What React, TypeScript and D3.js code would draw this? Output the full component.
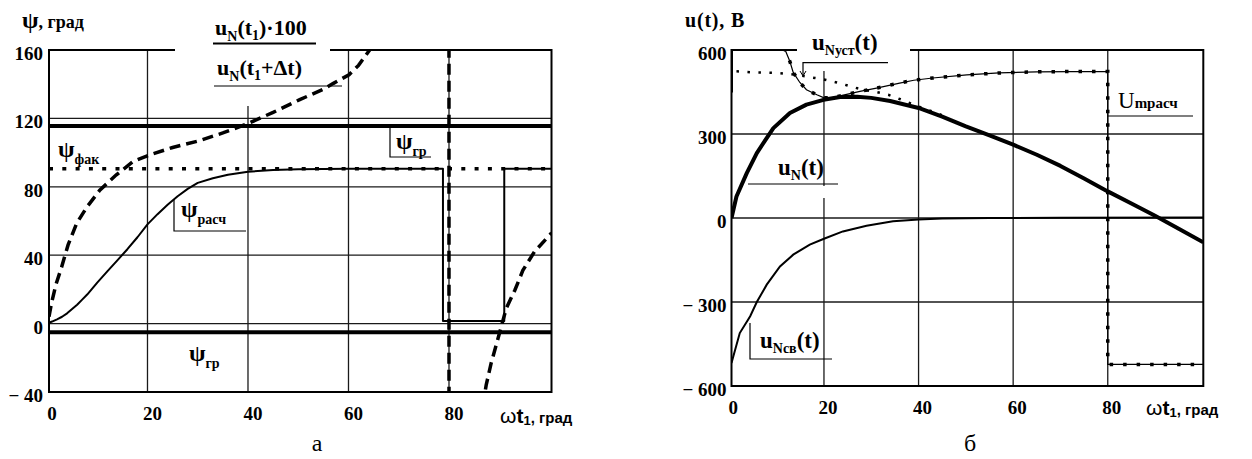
import React from 'react';
import * as d3 from 'd3';

const W = 1252;
const H = 459;

// ---------- chart "а" (left) ----------
const leftXTicks = [0, 20, 40, 60, 80];
const leftYTicks = [-40, 0, 40, 80, 120, 160];
const leftYTickLabels = ['\u2212 40', '0', '40', '80', '120', '160'];
const leftGridY = [0, 40, 80, 120];
const leftGridX = [20, 40, 60, 80];

const psiRaschX = [0.4, 1, 2, 3, 4, 5, 6, 7, 8, 9, 10, 12, 14, 16, 18, 20, 22, 24, 26, 28, 30, 33, 36, 40, 45, 50, 60, 78.8, 78.8, 91, 91, 100.4];
const psiRaschY = [0.5, 1.2, 2.5, 4, 6, 8.5, 11, 14, 17, 20.5, 24, 30.5, 37, 43.5, 50.5, 58, 64, 69.5, 74.5, 78.8, 82.3, 85, 87, 88.8, 89.8, 90.2, 90.5, 90.5, 1.5, 1.5, 90.5, 90.5];

const ratioX = [0.4, 0.9, 1.8, 2.9, 4.2, 5.9, 7.9, 10.5, 13.8, 17.1, 20.3, 25, 30.4, 35, 40, 45, 50.3, 55, 57, 60.1, 62, 64.2, 67, 70, 74, 77, 79.95, 80.05, 83, 85.5, 87.4, 88.4, 89.4, 90.4, 91.4, 93.1, 94.7, 97, 100.4];
const ratioY = [4, 12, 23, 33, 46, 58.6, 68, 78, 87, 94.7, 98.5, 103, 107, 111.5, 117, 123.5, 131, 137, 140.5, 145.5, 151, 160, 175, 200, 260, 400, 3000, -3000, -200, -70, -36, -23, -12.5, -1.8, 8.9, 19.5, 31.1, 42, 53];

const psiFakX = [0.4, 100.4];
const psiFakY = [90.5, 90.5];
const psiGrUpper = 115.5;
const psiGrLower = -5;

// ---------- chart "б" (right) ----------
const rightXTicks = [0, 20, 40, 60, 80];
const rightYTicks = [-600, -300, 0, 300, 600];
const rightYTickLabels = ['\u2212 600', '\u2212 300', '0', '300', '600'];
const rightGridY = [-300, 0, 300];
const rightGridX = [20, 40, 60, 80];

const uNX = [0.45, 1.5, 3.7, 5.8, 9.3, 12.8, 16.3, 19.9, 23.4, 27, 30, 34, 40, 45, 50, 55, 60, 65, 70, 75, 80, 85, 90, 95, 100.2];
const uNY = [0, 77, 161, 232, 321, 375, 405, 422, 432, 433, 429, 418, 393, 362, 327, 295, 262, 226, 186, 141, 95, 52, 8, -38, -87];

const uNsvX = [0.45, 2.2, 4.4, 5.8, 7.9, 10.7, 13.5, 17, 20, 24, 29, 34.6, 40, 45, 55, 70, 100.2];
const uNsvY = [-518, -411, -351, -300, -238, -173, -131, -95, -74, -48, -28, -12, -5, -2, 0, 1, 2];

const uNustX = [1.5, 5, 10, 13.9, 18.1, 20.2, 22.7, 24.8, 26.9, 29, 31.1, 33.6, 36, 38.2, 40, 43, 46];
const uNustY = [524, 520, 518, 512, 500, 494, 484, 474, 464, 456, 450, 440, 425, 410, 398, 380, 360];

const umX = [10.6, 11.8, 12.8, 13.5, 14.9, 16.3, 18.5, 19.9, 21.5, 23.4, 27.6, 31.1, 36, 39, 43, 50.2, 57, 65, 72, 80, 80, 100.2];
const umY = [800, 600, 559, 520, 484, 458, 440, 430, 429, 436, 452, 464, 482, 492, 500, 511, 518, 522, 523, 523, -523, -523];

const uStartX = [0.45, 0.45];
const uStartY = [448, 600];

// ---------- scales ----------
const lx = d3.scaleLinear().domain([0.4, 100.4]).range([49, 551.5]);
const ly = d3.scaleLinear().domain([-40, 160]).range([392, 50]);
const rx = d3.scaleLinear().domain([0.45, 100.2]).range([731.5, 1203.3]);
const ry = d3.scaleLinear().domain([-600, 600]).range([386, 50]);

const zip = (xs: number[], ys: number[]) => xs.map((x, i) => [x, ys[i]] as [number, number]);

const lLine = d3.line<[number, number]>().x(d => lx(d[0])).y(d => ly(d[1]));
const rLine = d3.line<[number, number]>().x(d => rx(d[0])).y(d => ry(d[1]));

const SERIF = "'Liberation Serif', 'DejaVu Serif', serif";
const SANS = "'Liberation Sans', 'DejaVu Sans', sans-serif";
const GRID = '#1a1a1a';

const serif = { fontFamily: SERIF };
const sans = { fontFamily: SANS };

function AxisTitle({ x, y }: { x: number; y: number }) {
  return (
    <text x={x} y={y} style={sans} fill="#000">
      <tspan fontSize={21}>ω</tspan>
      <tspan fontSize={21} fontWeight="bold">t</tspan>
      <tspan fontSize={13} fontWeight="bold" dy={2}>1</tspan>
      <tspan fontSize={15} fontWeight="bold" dy={-2}>, град</tspan>
    </text>
  );
}

function Psi({ x, y, sub }: { x: number; y: number; sub: string }) {
  return (
    <text x={x} y={y} style={serif} fontWeight="bold" fill="#000">
      <tspan fontSize={24}>ψ</tspan>
      <tspan fontSize={14} dy={7}>{sub}</tspan>
    </text>
  );
}

export default function App() {
  const [l0, l1] = lx.range();
  const [lb, lt] = ly.range();
  const [r0, r1] = rx.range();
  const [rb, rt] = ry.range();

  return (
    <svg
      width={W}
      height={H}
      viewBox={`0 0 ${W} ${H}`}
      style={{ position: 'absolute', left: 0, top: 0, background: '#fff', fontFamily: SERIF }}
    >
      <defs>
        <clipPath id="clipL">
          <rect x={l0} y={lt} width={l1 - l0} height={lb - lt} />
        </clipPath>
        <clipPath id="clipR">
          <rect x={r0} y={rt} width={r1 - r0} height={rb - rt} />
        </clipPath>
      </defs>
      <rect x={0} y={0} width={W} height={H} fill="#fff" />

      {/* ================= LEFT CHART ================= */}
      <g>
        {leftGridX.map(v => (
          <line key={'lgx' + v} x1={lx(v)} x2={lx(v)} y1={lt} y2={lb} stroke={GRID} strokeWidth={1.3} />
        ))}
        {leftGridY.map(v => (
          <line key={'lgy' + v} x1={l0} x2={l1} y1={ly(v)} y2={ly(v)} stroke={GRID} strokeWidth={1.3} />
        ))}
        <rect x={l0} y={lt} width={l1 - l0} height={lb - lt} fill="none" stroke="#000" strokeWidth={2} />
        <rect x={175} y={38} width={155} height={68} fill="#fff" />

        <line x1={l0} x2={l1} y1={ly(psiGrUpper)} y2={ly(psiGrUpper)} stroke="#000" strokeWidth={4} />
        <line x1={l0} x2={l1} y1={ly(psiGrLower)} y2={ly(psiGrLower)} stroke="#000" strokeWidth={4} />

        <g clipPath="url(#clipL)" fill="none">
          <path d={lLine(zip(psiFakX, psiFakY)) || ''} stroke="#000" strokeWidth={3.5} strokeDasharray="4 9.3" />
          <path d={lLine(zip(psiRaschX, psiRaschY)) || ''} stroke="#000" strokeWidth={2} strokeLinejoin="round" />
          <path d={lLine(zip(ratioX, ratioY)) || ''} stroke="#000" strokeWidth={3.5} strokeDasharray="11 6" />
        </g>

        {leftYTicks.map((v, i) => (
          <text key={'lyt' + v} x={l0 - 6} y={ly(v) + 10} textAnchor="end" style={serif} fontWeight="bold" fontSize={19}>
            {leftYTickLabels[i]}
          </text>
        ))}
        {leftXTicks.map(v => (
          <text key={'lxt' + v} x={lx(v) + 5} y={lb + 28} textAnchor="middle" style={serif} fontWeight="bold" fontSize={19}>
            {v}
          </text>
        ))}
        <text x={22} y={28} style={serif} fontWeight="bold" fill="#000">
          <tspan fontSize={24}>ψ</tspan>
          <tspan fontSize={18}>, град</tspan>
        </text>
        <AxisTitle x={500} y={423} />

        <text x={215} y={35} style={serif} fontWeight="bold" fontSize={22}>
          u<tspan fontSize={14} dy={6}>N</tspan>
          <tspan dy={-6}>(t</tspan>
          <tspan fontSize={14} dy={5}>1</tspan>
          <tspan dy={-5}>)·100</tspan>
        </text>
        <line x1={213} x2={316} y1={43.5} y2={43.5} stroke="#000" strokeWidth={2} />
        <text x={217} y={75} style={serif} fontWeight="bold" fontSize={22}>
          u<tspan fontSize={14} dy={6}>N</tspan>
          <tspan dy={-6}>(t</tspan>
          <tspan fontSize={14} dy={5}>1</tspan>
          <tspan dy={-5}>+Δt)</tspan>
        </text>
        <line x1={214} x2={342} y1={86} y2={86} stroke="#000" strokeWidth={1.2} />

        <Psi x={58} y={157} sub="фак" />
        <Psi x={181} y={217} sub="расч" />
        <polyline points="174,200 174,231 246,231" fill="none" stroke="#000" strokeWidth={1.2} />
        <Psi x={396} y={149} sub="гр" />
        <polyline points="390,128 390,157 431,157" fill="none" stroke="#000" strokeWidth={1.2} />
        <Psi x={189} y={361} sub="гр" />

        <text x={317} y={451} textAnchor="middle" style={serif} fontSize={24}>а</text>
      </g>

      {/* ================= RIGHT CHART ================= */}
      <g>
        {rightGridX.map(v => (
          <line key={'rgx' + v} x1={rx(v)} x2={rx(v)} y1={rt} y2={rb} stroke={GRID} strokeWidth={1.3} />
        ))}
        {rightGridY.map(v => (
          <line key={'rgy' + v} x1={r0} x2={r1} y1={ry(v)} y2={ry(v)} stroke={GRID} strokeWidth={1.3} />
        ))}
        <rect x={r0} y={rt} width={r1 - r0} height={rb - rt} fill="none" stroke="#000" strokeWidth={2} />
        <rect x={797} y={38} width={113} height={33} fill="#fff" />
        <rect x={748} y={186} width={92} height={12} fill="#fff" />

        <g clipPath="url(#clipR)" fill="none">
          <path d={rLine(zip(uStartX, uStartY)) || ''} stroke="#000" strokeWidth={3} />
          <path d={rLine(zip(uNsvX, uNsvY)) || ''} stroke="#000" strokeWidth={2} />
          <path d={rLine(zip(umX, umY)) || ''} stroke="#000" strokeWidth={1.2} />
          <path d={rLine(zip(umX, umY)) || ''} stroke="#000" strokeWidth={3.5} strokeDasharray="3.5 10" />
          <path d={rLine(zip(uNustX, uNustY)) || ''} stroke="#000" strokeWidth={2.5} strokeDasharray="2.5 8.5" />
          <path d={rLine(zip(uNX, uNY)) || ''} stroke="#000" strokeWidth={4} strokeLinejoin="round" />
        </g>

        {rightYTicks.map((v, i) => (
          <text key={'ryt' + v} x={r0 - 5} y={ry(v) + 10} textAnchor="end" style={serif} fontWeight="bold" fontSize={19}>
            {rightYTickLabels[i]}
          </text>
        ))}
        {rightXTicks.map(v => (
          <text key={'rxt' + v} x={rx(v) + 4} y={rb + 28} textAnchor="middle" style={serif} fontWeight="bold" fontSize={19}>
            {v}
          </text>
        ))}
        <text x={685} y={27} style={serif} fontWeight="bold" fontSize={20} letterSpacing={0.8}>u(t), B</text>
        <AxisTitle x={1146} y={415} />

        <text x={812} y={50} style={serif} fontWeight="bold" fontSize={23}>
          u<tspan fontSize={14} dy={5}>Nуст</tspan>
          <tspan dy={-5}>(t)</tspan>
        </text>
        <polyline points="888,62.7 803,62.7 803,75" fill="none" stroke="#000" strokeWidth={1.2} />
        <path d="M800,71 L803,76 L806,71" fill="none" stroke="#000" strokeWidth={1} />

        <text x={778} y={175} style={serif} fontWeight="bold" fontSize={23}>
          u<tspan fontSize={14} dy={5}>N</tspan>
          <tspan dy={-5}>(t)</tspan>
        </text>
        <line x1={748} x2={838} y1={184} y2={184} stroke="#000" strokeWidth={1.2} />

        <text x={760} y={348} style={serif} fontWeight="bold" fontSize={23}>
          u<tspan fontSize={14} dy={5}>Nсв</tspan>
          <tspan dy={-5}>(t)</tspan>
        </text>
        <polyline points="750,323 750,359 832,359" fill="none" stroke="#000" strokeWidth={1.2} />

        <text x={1118} y={108} style={serif} fill="#000">
          <tspan fontSize={23}>U</tspan>
          <tspan fontSize={15} fontWeight="bold">mрасч</tspan>
        </text>
        <line x1={1108} x2={1193} y1={116} y2={116} stroke="#000" strokeWidth={1.2} />

        <text x={970} y={451} textAnchor="middle" style={serif} fontSize={24}>б</text>
      </g>
    </svg>
  );
}
